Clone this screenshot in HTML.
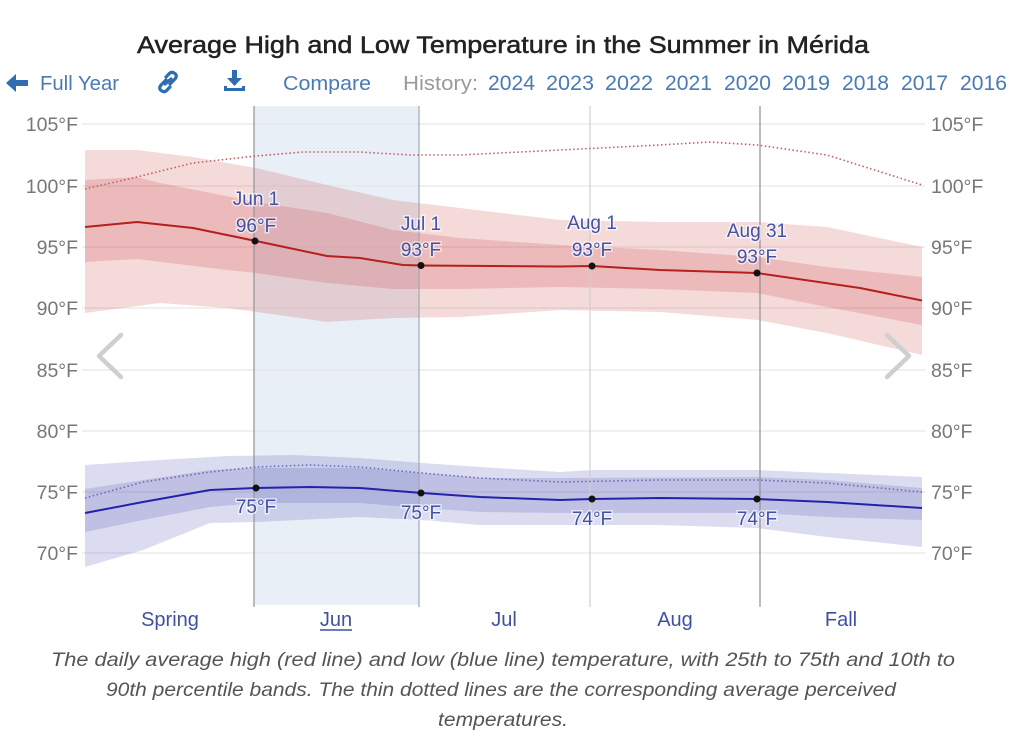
<!DOCTYPE html>
<html><head><meta charset="utf-8"><style>
html,body{margin:0;padding:0;background:#fff;}
svg{display:block;}
text{font-family:"Liberation Sans",sans-serif;}
</style></head><body>
<svg width="1024" height="753" viewBox="0 0 1024 753" xmlns="http://www.w3.org/2000/svg">
<rect width="1024" height="753" fill="#fff"/>
<!-- title -->
<text x="503" y="53" text-anchor="middle" font-size="24" fill="#222" stroke="#222" stroke-width="0.5" textLength="732" lengthAdjust="spacingAndGlyphs">Average High and Low Temperature in the Summer in Mérida</text>
<!-- nav -->
<g fill="#2e6db0">
<path d="M6 83 L16 74 L16 80 L28 80 L28 86 L16 86 L16 92 Z"/>
</g>
<g font-size="20" fill="#4a7ab5">
<text x="40" y="90" textLength="79" lengthAdjust="spacingAndGlyphs">Full Year</text>
<text x="283" y="90" textLength="88" lengthAdjust="spacingAndGlyphs">Compare</text>
<text x="403" y="90" fill="#9a9a9a" textLength="75" lengthAdjust="spacingAndGlyphs">History:</text>
<g font-size="21">
<text x="488" y="90" textLength="47" lengthAdjust="spacingAndGlyphs">2024</text>
<text x="546" y="90" textLength="48" lengthAdjust="spacingAndGlyphs">2023</text>
<text x="605" y="90" textLength="48" lengthAdjust="spacingAndGlyphs">2022</text>
<text x="665" y="90" textLength="47" lengthAdjust="spacingAndGlyphs">2021</text>
<text x="724" y="90" textLength="47" lengthAdjust="spacingAndGlyphs">2020</text>
<text x="782" y="90" textLength="48" lengthAdjust="spacingAndGlyphs">2019</text>
<text x="842" y="90" textLength="47" lengthAdjust="spacingAndGlyphs">2018</text>
<text x="901" y="90" textLength="47" lengthAdjust="spacingAndGlyphs">2017</text>
<text x="960" y="90" textLength="47" lengthAdjust="spacingAndGlyphs">2016</text>
</g>
</g>
<!-- link icon -->
<g fill="none" stroke="#2e6db0" stroke-width="3.2" stroke-linecap="round">
<path d="M166 80 L161 85 Q158 89 162 91 Q165 93 168 89 L170 87"/>
<path d="M170 84 L175 79 Q178 75 174 73 Q171 71 168 75 L166 77"/>
<path d="M165 84 L171 79"/>
</g>
<!-- download icon -->
<g fill="#2e6db0">
<rect x="232" y="70" width="5" height="10"/>
<path d="M227 78 L242 78 L234.5 86 Z"/>
<rect x="224" y="86" width="3" height="5"/>
<rect x="242" y="86" width="3" height="5"/>
<rect x="224" y="88" width="21" height="3"/>
</g>
<!-- Jun shading -->
<rect x="254" y="106" width="165" height="499" fill="#e8eff7"/>
<!-- gridlines -->
<g stroke="#e6e6e6" stroke-width="1.3">
<line x1="82" y1="124" x2="925" y2="124"/>
<line x1="82" y1="186" x2="925" y2="186"/>
<line x1="82" y1="247" x2="925" y2="247"/>
<line x1="82" y1="308" x2="925" y2="308"/>
<line x1="82" y1="370" x2="925" y2="370"/>
<line x1="82" y1="431" x2="925" y2="431"/>
<line x1="82" y1="492" x2="925" y2="492"/>
<line x1="82" y1="553" x2="925" y2="553"/>
</g>
<!-- red bands -->
<path fill="rgb(205,70,70)" fill-opacity="0.2" d="M85 150 L137 150 L193 157 L227 163 L256 168 L327 185 L393 200 L460 208 L560 220 L660 222 L757 222 L827 227 L922 247 L922 355 L827 333 L757 320 L660 312 L560 310 L460 317 L393 318 L327 322 L293 317 L227 308 L160 303 L85 313 Z"/>
<path fill="rgb(200,60,60)" fill-opacity="0.2" d="M85 180 L137 177 L160 183 L256 202 L327 213 L393 230 L460 238 L560 245 L660 250 L757 257 L827 267 L922 277 L922 325 L827 307 L757 293 L660 289 L560 287 L460 289 L393 289 L327 283 L256 273 L227 270 L137 259 L85 262 Z"/>
<!-- blue bands -->
<path fill="rgb(80,80,180)" fill-opacity="0.2" d="M85 465 L160 460 L227 456 L293 455 L360 458 L422 463 L480 467 L560 472 L592 470 L757 470 L922 477 L922 547 L827 537 L757 528 L660 525 L560 525 L480 525 L422 520 L360 517 L256 522 L210 523 L143 550 L85 567 Z"/>
<path fill="rgb(80,80,180)" fill-opacity="0.2" d="M85 489 L143 480 L210 470 L256 468 L360 468 L422 473 L480 478 L560 478 L757 477 L827 480 L922 488 L922 520 L827 517 L757 513 L560 513 L480 512 L422 508 L360 503 L256 503 L210 507 L143 520 L85 532 Z"/>
<!-- vertical lines -->
<line x1="254" y1="106" x2="254" y2="607" stroke="#8f949c" stroke-width="1.2"/>
<line x1="419" y1="106" x2="419" y2="607" stroke="#a2a7ae" stroke-width="1.2"/>
<line x1="590" y1="106" x2="590" y2="607" stroke="#cfcfcf" stroke-width="1.2"/>
<line x1="760" y1="106" x2="760" y2="607" stroke="#8f8f8f" stroke-width="1.2"/>
<!-- dotted perceived lines -->
<polyline fill="none" stroke="#c06060" stroke-width="1.6" stroke-dasharray="1.5 2.5" points="85,189 137,177 193,163 256,156 303,152 360,152 410,155 460,155 560,150 660,145 710,142 757,145 827,155 922,185"/>
<polyline fill="none" stroke="#6a6ab8" stroke-width="1.6" stroke-dasharray="1.5 2.5" points="85,498 143,482 210,472 256,467 310,465 360,467 422,473 480,478 560,482 660,480 757,480 827,483 922,492"/>
<!-- main lines -->
<polyline fill="none" stroke="#b42020" stroke-width="2" stroke-linejoin="round" points="85,227 137,222 193,228 256,241 327,256 360,258 403,265 422,265.5 560,266.5 592,266 660,270 757,273 860,288 922,300.5"/>
<polyline fill="none" stroke="#2323a8" stroke-width="2" stroke-linejoin="round" points="85,513 143,502 210,490 256,488 310,487 360,488 422,493 480,497 560,500 592,499 660,498 757,499 827,502 922,508"/>
<!-- markers -->
<g fill="#111">
<circle cx="255" cy="241" r="3.5"/><circle cx="421" cy="265.5" r="3.5"/><circle cx="592" cy="266" r="3.5"/><circle cx="757" cy="273" r="3.5"/>
<circle cx="256" cy="488" r="3.5"/><circle cx="421" cy="493" r="3.5"/><circle cx="592" cy="499" r="3.5"/><circle cx="757" cy="499" r="3.5"/>
</g>
<!-- point labels -->
<g font-size="19" fill="#4352a3" text-anchor="middle" stroke="#fff" stroke-width="3" stroke-opacity="0.6" paint-order="stroke">
<text x="256" y="205">Jun 1</text><text x="256" y="232">96°F</text>
<text x="421" y="230">Jul 1</text><text x="421" y="256">93°F</text>
<text x="592" y="229">Aug 1</text><text x="592" y="256">93°F</text>
<text x="757" y="237">Aug 31</text><text x="757" y="263">93°F</text>
<text x="256" y="513">75°F</text>
<text x="421" y="519">75°F</text>
<text x="592" y="525">74°F</text>
<text x="757" y="525">74°F</text>
</g>
<!-- axis labels -->
<g font-size="19.5" fill="#777" text-anchor="end">
<text x="78" y="131">105°F</text><text x="78" y="193">100°F</text><text x="78" y="254">95°F</text><text x="78" y="315">90°F</text><text x="78" y="377">85°F</text><text x="78" y="438">80°F</text><text x="78" y="499">75°F</text><text x="78" y="560">70°F</text>
</g>
<g font-size="19.5" fill="#777">
<text x="931" y="131">105°F</text><text x="931" y="193">100°F</text><text x="931" y="254">95°F</text><text x="931" y="315">90°F</text><text x="931" y="377">85°F</text><text x="931" y="438">80°F</text><text x="931" y="499">75°F</text><text x="931" y="560">70°F</text>
</g>
<!-- chevrons -->
<g fill="none" stroke="#cfcfcf" stroke-width="4.5" stroke-linecap="round" stroke-linejoin="round">
<polyline points="121,335 99,356 121,377"/>
<polyline points="887,335 909,356 887,377"/>
</g>
<!-- month labels -->
<g font-size="20" fill="#3f51a0" text-anchor="middle">
<text x="170" y="626">Spring</text>
<text x="336" y="626">Jun</text>
<text x="504" y="626">Jul</text>
<text x="675" y="626">Aug</text>
<text x="841" y="626">Fall</text>
</g>
<line x1="320" y1="630" x2="352" y2="630" stroke="#3f51a0" stroke-width="1.5"/>
<!-- caption -->
<g font-size="19" font-style="italic" fill="#555" text-anchor="middle">
<text x="503" y="666" textLength="904" lengthAdjust="spacingAndGlyphs">The daily average high (red line) and low (blue line) temperature, with 25th to 75th and 10th to</text>
<text x="501" y="696" textLength="790" lengthAdjust="spacingAndGlyphs">90th percentile bands. The thin dotted lines are the corresponding average perceived</text>
<text x="503" y="726" textLength="130" lengthAdjust="spacingAndGlyphs">temperatures.</text>
</g>
</svg>
</body></html>
